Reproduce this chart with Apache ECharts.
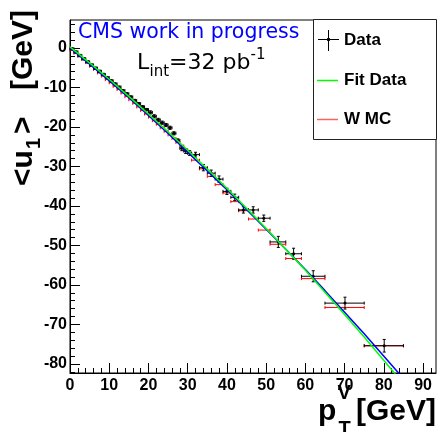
<!DOCTYPE html>
<html><head><meta charset="utf-8">
<script src="https://cdn.jsdelivr.net/npm/echarts@6/dist/echarts.min.js"></script>
<style>html,body{margin:0;padding:0;background:#fff}#c{width:439px;height:432px}</style>
</head><body><div id="c"></div>
<script>
// ---- Data ----
const dataX  = [0.5,1.5,2.5,3.5,4.5,5.5,6.5,7.5,8.5,9.5,10.5,11.5,12.5,13.5,14.5,15.5,16.5,17.5,18.5,19.5,20.5,21.5,22.5,23.5,24.5,25.5,26.5,27.5,28.5,29.5,30.5,32.0,34.0,36.0,38.0,40.0,42.0,44.2,46.7,49.4,53.1,57.0,62.0,70.1,80.1];
const binLo  = [0,1,2,3,4,5,6,7,8,9,10,11,12,13,14,15,16,17,18,19,20,21,22,23,24,25,26,27,28,29,30,31,33,35,37,39,41,43,45.5,48,51,55,59,65,75];
const binHi  = [1,2,3,4,5,6,7,8,9,10,11,12,13,14,15,16,17,18,19,20,21,22,23,24,25,26,27,28,29,30,31,33,35,37,39,41,43,45.5,48,51,55,59,65,75,85];
const dataY  = [-0.2,-1.0,-1.9,-2.7,-3.5,-4.3,-5.1,-5.9,-6.7,-7.5,-8.3,-9.1,-9.9,-10.8,-11.6,-12.4,-13.3,-14.1,-14.9,-15.6,-16.3,-17.3,-18.2,-18.9,-19.5,-20.2,-21.6,-23.4,-25.4,-26.1,-26.6,-27.0,-30.3,-31.7,-33.2,-36.3,-37.8,-41.0,-41.0,-43.1,-49.1,-52.1,-57.8,-64.6,-75.4];
const dataYErr = [0.3,0.3,0.3,0.3,0.3,0.3,0.3,0.3,0.3,0.3,0.3,0.3,0.3,0.3,0.3,0.3,0.3,0.3,0.3,0.3,0.4,0.4,0.4,0.4,0.4,0.4,0.4,0.4,0.6,0.6,0.6,0.6,0.8,0.8,0.8,0.8,0.8,0.8,0.8,0.8,1.4,1.4,1.4,1.5,1.6];
const mcY    = [-0.5,-1.3,-2.1,-2.9,-3.7,-4.6,-5.4,-6.3,-7.1,-8.0,-8.8,-9.7,-10.5,-11.4,-12.3,-13.1,-14.0,-14.9,-15.8,-16.7,-17.5,-18.4,-19.3,-20.2,-21.1,-22.0,-22.9,-23.9,-24.8,-25.8,-26.7,-28.4,-30.6,-32.5,-34.6,-36.7,-38.9,-41.2,-43.3,-46.1,-49.7,-53.3,-58.4,-65.7,-75.4];
const fitX   = [0,5,10,15,20,25,30,35,40,45,50,55,60,65,70,75,83.2];
const fitY   = [0.3,-3.76,-7.9,-12.24,-16.7,-21.2,-25.9,-30.64,-35.5,-40.56,-45.7,-50.96,-56.3,-61.84,-67.5,-73.2,-82.9];
const mcFitX = [0,5,10,15,20,25,30,35,40,45,50,55,60,65,70,75,84.2];
const mcFitY = [0.0,-4.06,-8.24,-12.59,-17.1,-21.65,-26.4,-31.14,-35.9,-40.86,-45.9,-50.96,-56.1,-61.44,-66.9,-72.35,-82.8];
const xMajor = [0,10,20,30,40,50,60,70,80,90];
const xMinor = [2,4,6,8,12,14,16,18,22,24,26,28,32,34,36,38,42,44,46,48,52,54,56,58,62,64,66,68,72,74,76,78,82,84,86,88,92];
const yMajor = [-80,-70,-60,-50,-40,-30,-20,-10,0];
const yMinor = [-82,-78,-76,-74,-72,-68,-66,-64,-62,-58,-56,-54,-52,-48,-46,-44,-42,-38,-36,-34,-32,-28,-26,-24,-22,-18,-16,-14,-12,-8,-6,-4,-2,2,4,6];

const X_MIN = 0, X_MAX = 93.3, Y_MIN = -82.3, Y_MAX = 7.1;
const GRID = {left:70, right:3, top:20, bottom:59};
const GW = 439 - GRID.left - GRID.right, GH = 432 - GRID.top - GRID.bottom;
const lblFont = {fontFamily:'Liberation Sans', fontWeight:'bold', fontSize:16, color:'#000'};

const chart = echarts.init(document.getElementById('c'), null, {renderer:'canvas'});

function errRender(color, withY, withMarker){
  return function(params, api){
    const x = api.value(0), y = api.value(1), lo = api.value(2), hi = api.value(3), ey = api.value(4);
    const c = api.coord([x, y]);
    const l = api.coord([lo, y]);
    const h = api.coord([hi, y]);
    const st = {stroke: color, lineWidth: 1};
    const ch = [
      {type:'line', shape:{x1:l[0], y1:c[1], x2:h[0], y2:c[1]}, style:st},
      {type:'line', shape:{x1:l[0], y1:c[1]-1.5, x2:l[0], y2:c[1]+1.5}, style:st},
      {type:'line', shape:{x1:h[0], y1:c[1]-1.5, x2:h[0], y2:c[1]+1.5}, style:st}
    ];
    if (withY) {
      const t = api.coord([x, y + ey]), b = api.coord([x, y - ey]);
      ch.push({type:'line', shape:{x1:c[0], y1:t[1], x2:c[0], y2:b[1]}, style:st});
      ch.push({type:'line', shape:{x1:c[0]-1.5, y1:t[1], x2:c[0]+1.5, y2:t[1]}, style:st});
      ch.push({type:'line', shape:{x1:c[0]-1.5, y1:b[1], x2:c[0]+1.5, y2:b[1]}, style:st});
    }
    if (withMarker) {
      ch.push({type:'circle', shape:{cx:c[0], cy:c[1], r:1.5}, style:{fill:color}});
    }
    return {type:'group', children:ch};
  };
}

const dataSet = dataX.map((x,i)=>[x, dataY[i], binLo[i], binHi[i], dataYErr[i]]);
const mcSet = dataX.map((x,i)=>[x, mcY[i], binLo[i], binHi[i], 0]);

const option = {
  backgroundColor:'#fff',
  animation:false,
  grid:Object.assign({show:true, borderColor:'#000', borderWidth:1, containLabel:false, outerBoundsMode:'none'}, GRID),
  xAxis:[
    {type:'value', min:X_MIN, max:X_MAX, position:'bottom',
     axisLine:{show:true, onZero:false, lineStyle:{color:'#000', width:1}},
     axisTick:{show:true, inside:true, length:10, lineStyle:{color:'#000'}, customValues:xMajor},
     axisLabel:Object.assign({show:true, margin:5, customValues:xMajor}, lblFont),
     splitLine:{show:false}},
    {type:'value', min:X_MIN, max:X_MAX, position:'top', offset:-GH,
     axisLine:{show:false, onZero:false}, axisTick:{show:true, inside:false, length:5, lineStyle:{color:'#000'}, customValues:xMinor},
     axisLabel:{show:false}, splitLine:{show:false}}
  ],
  yAxis:[
    {type:'value', min:Y_MIN, max:Y_MAX, position:'left',
     axisLine:{show:true, onZero:false, lineStyle:{color:'#000', width:1}},
     axisTick:{show:true, inside:true, length:10, lineStyle:{color:'#000'}, customValues:yMajor},
     axisLabel:Object.assign({show:true, margin:3, customValues:yMajor}, lblFont),
     splitLine:{show:false}},
    {type:'value', min:Y_MIN, max:Y_MAX, position:'right', offset:-GW,
     axisLine:{show:false, onZero:false}, axisTick:{show:true, inside:false, length:5, lineStyle:{color:'#000'}, customValues:yMinor},
     axisLabel:{show:false}, splitLine:{show:false}}
  ],
  series:[
    {type:'custom', name:'W MC', z:2, renderItem:errRender('#ff0000', false, false), data:mcSet, encode:{x:0, y:1}},
    {type:'custom', name:'Data', z:3, renderItem:errRender('#000000', true, true), data:dataSet, encode:{x:0, y:1}},
    {type:'line', name:'MC fit', z:4, data:mcFitX.map((x,i)=>[x, mcFitY[i]]), showSymbol:false, clip:true,
     lineStyle:{color:'#0000ff', width:1.5}},
    {type:'line', name:'Fit Data', z:5, data:fitX.map((x,i)=>[x, fitY[i]]), showSymbol:false, clip:true,
     lineStyle:{color:'#00ff00', width:1.5}}
  ],
  graphic:[
    {type:'text', x:78, y:33, z:10, style:{text:'CMS work in progress', fill:'#0000ff', font:'20.5px "DejaVu Sans"', textVerticalAlign:'middle'}},
    {type:'text', x:137, y:63.5, z:10, style:{text:'L', fill:'#000', font:'22px "DejaVu Sans"', textVerticalAlign:'middle'}},
    {type:'text', x:149.5, y:72.5, z:10, style:{text:'int', fill:'#000', font:'15px "DejaVu Sans"', textVerticalAlign:'middle'}},
    {type:'text', x:169, y:63.5, z:10, style:{text:'=32 pb', fill:'#000', font:'22px "DejaVu Sans"', textVerticalAlign:'middle'}},
    {type:'text', x:250.5, y:55, z:10, style:{text:'-1', fill:'#000', font:'15px "DejaVu Sans"', textVerticalAlign:'middle'}},
    // legend
    {type:'rect', z:10, shape:{x:313.5, y:19.5, width:123, height:120}, style:{fill:'#fff', stroke:'#222', lineWidth:1}},
    {type:'line', z:11, shape:{x1:318, y1:39.5, x2:339, y2:39.5}, style:{stroke:'#000', lineWidth:1}},
    {type:'line', z:11, shape:{x1:328.5, y1:30, x2:328.5, y2:51}, style:{stroke:'#000', lineWidth:1}},
    {type:'circle', z:11, shape:{cx:328.5, cy:39.5, r:1.8}, style:{fill:'#000'}},
    {type:'text', z:11, x:344, y:40, style:{text:'Data', fill:'#000', font:'bold 17px "Liberation Sans"', textVerticalAlign:'middle'}},
    {type:'line', z:11, shape:{x1:317, y1:80.5, x2:338, y2:80.5}, style:{stroke:'#00ff00', lineWidth:1.5}},
    {type:'text', z:11, x:344, y:80, style:{text:'Fit Data', fill:'#000', font:'bold 17px "Liberation Sans"', textVerticalAlign:'middle'}},
    {type:'line', z:11, shape:{x1:317, y1:119.5, x2:338, y2:119.5}, style:{stroke:'#ff6060', lineWidth:1.5}},
    {type:'text', z:11, x:344, y:119.5, style:{text:'W MC', fill:'#000', font:'bold 17px "Liberation Sans"', textVerticalAlign:'middle'}},
    // x axis title
    {type:'text', z:10, x:318, y:411.5, style:{text:'p', fill:'#000', font:'bold 30px "Liberation Sans"', textVerticalAlign:'middle'}},
    {type:'text', z:10, x:337.5, y:393, style:{text:'V', fill:'#000', font:'bold 20px "Liberation Sans"', textVerticalAlign:'middle'}},
    {type:'text', z:10, x:338.5, y:429, style:{text:'T', fill:'#000', font:'bold 20px "Liberation Sans"', textVerticalAlign:'middle'}},
    {type:'text', z:10, x:436, y:411.5, style:{text:'[GeV]', fill:'#000', font:'bold 30px "Liberation Sans"', textVerticalAlign:'middle', textAlign:'right'}},
    // y axis title (rotated)
    {type:'group', z:10, x:24, y:190, rotation:Math.PI/2, children:[
      {type:'text', x:4, y:0, style:{text:'<u', fill:'#000', font:'bold 30px "Liberation Sans"', textVerticalAlign:'middle'}},
      {type:'text', x:41, y:10, style:{text:'1', fill:'#000', font:'bold 20px "Liberation Sans"', textVerticalAlign:'middle'}},
      {type:'text', x:56, y:0, style:{text:'>', fill:'#000', font:'bold 30px "Liberation Sans"', textVerticalAlign:'middle'}},
      {type:'text', x:100, y:0, style:{text:'[GeV]', fill:'#000', font:'bold 30px "Liberation Sans"', textVerticalAlign:'middle'}}
    ]}
  ]
};
chart.setOption(option);
</script>
</body></html>
